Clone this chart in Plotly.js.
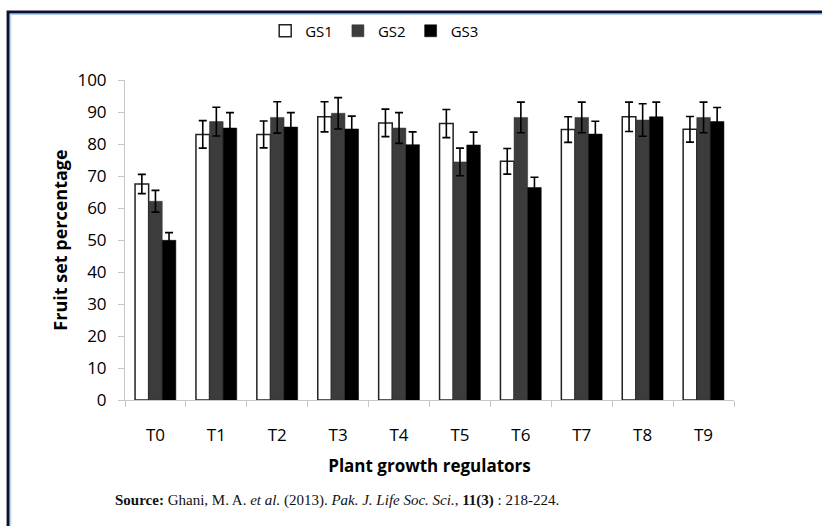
<!DOCTYPE html>
<html>
<head>
<meta charset="utf-8">
<script src="https://cdn.plot.ly/plotly-3.0.1.min.js"></script>
<style>
html,body{margin:0;padding:0;background:#fff;}
#chart{width:822px;height:526px;}
</style>
</head>
<body>
<div id="chart"></div>
<script>
var categories = ["T0","T1","T2","T3","T4","T5","T6","T7","T8","T9"];
var gs1 = [67.5, 83.0, 83.0, 88.5, 86.6, 86.4, 74.6, 84.5, 88.5, 84.6];
var gs1Err = [3.0, 4.3, 4.2, 4.7, 4.3, 4.4, 4.0, 4.0, 4.6, 4.0];
var gs2 = [62.1, 87.0, 88.3, 89.6, 85.0, 74.4, 88.3, 88.3, 87.5, 88.3];
var gs2Err = [3.4, 4.5, 4.9, 4.9, 4.8, 4.3, 4.8, 4.8, 5.1, 4.8];
var gs3 = [49.9, 85.0, 85.3, 84.7, 79.8, 79.7, 66.4, 83.1, 88.5, 87.0];
var gs3Err = [2.4, 4.8, 4.5, 4.0, 4.0, 4.0, 3.2, 4.0, 4.6, 4.4];
var seriesNames = ["GS1","GS2","GS3"];
var yTicks = [0,10,20,30,40,50,60,70,80,90,100];

var FONT = "'Open Sans', 'Liberation Sans', sans-serif";

function errBar(arr){
  return {type:'data', array:arr, visible:true, color:'#000', thickness:1.6, width:4};
}

var traces = [
  {type:'bar', name:seriesNames[0], x:categories, y:gs1, error_y:errBar(gs1Err),
   marker:{color:'#ffffff', line:{color:'#222', width:1.5}}},
  {type:'bar', name:seriesNames[1], x:categories, y:gs2, error_y:errBar(gs2Err),
   marker:{color:'#3c3c3c', line:{color:'#333', width:0.5}}},
  {type:'bar', name:seriesNames[2], x:categories, y:gs3, error_y:errBar(gs3Err),
   marker:{color:'#000000', line:{color:'#000', width:0.5}}}
];

var layout = {
  width:822, height:526,
  margin:{l:125, r:88, t:80, b:126},
  paper_bgcolor:'#fff', plot_bgcolor:'#fff',
  barmode:'group', bargap:0.33, bargroupgap:0,
  font:{family:FONT, color:'#000'},
  showlegend:true,
  legend:{orientation:'h', x:0.41, xanchor:'center', y:1.153, yanchor:'middle',
          font:{family:FONT, size:15, color:'#000'}, itemwidth:30, traceorder:'normal',
          bgcolor:'rgba(0,0,0,0)'},
  xaxis:{
    type:'category', showgrid:false, zeroline:false,
    showline:true, linecolor:'#c8c8c8', linewidth:1,
    ticks:'outside', tickson:'boundaries', ticklen:6, tickcolor:'#c8c8c8',
    tickfont:{family:FONT, size:17, color:'#000'}, ticklabelstandoff:20,
    title:{text:'<b>Plant growth regulators</b>', font:{family:FONT, size:17, color:'#000'}, standoff:14}
  },
  yaxis:{
    range:[0,100], tickvals:yTicks, showgrid:false, zeroline:false,
    showline:true, linecolor:'#c8c8c8', linewidth:1,
    ticks:'outside', ticklen:6, tickcolor:'#c8c8c8',
    tickfont:{family:FONT, size:17, color:'#000'}, ticklabelstandoff:8,
    title:{text:'<b>Fruit set percentage</b>', font:{family:FONT, size:18, color:'#000'}, standoff:5}
  },
  annotations:[
    {xref:'paper', yref:'paper', x:-0.0197, y:-0.3125, xanchor:'left', yanchor:'middle', showarrow:false,
     text:'<b>Source:</b> Ghani, M. A. <i>et al.</i> (2013). <i>Pak. J. Life Soc. Sci.</i>, <b>11(3)</b> : 218-224.',
     font:{family:"'Liberation Serif', 'Times New Roman', serif", size:15, color:'#111'}}
  ],
  shapes:[
    {type:'rect', xref:'paper', yref:'paper', x0:-0.192, x1:1.3, y0:-0.6, y1:1.2125,
     line:{color:'#0c1230', width:3}, fillcolor:'rgba(0,0,0,0)', layer:'above'},
    {type:'rect', xref:'paper', yref:'paper', x0:-0.1875, x1:1.3, y0:-0.6, y1:1.205,
     line:{color:'#a9cbe8', width:1}, fillcolor:'rgba(0,0,0,0)', layer:'above'}
  ]
};

Plotly.newPlot('chart', traces, layout, {displayModeBar:false, staticPlot:true});
</script>
</body>
</html>
